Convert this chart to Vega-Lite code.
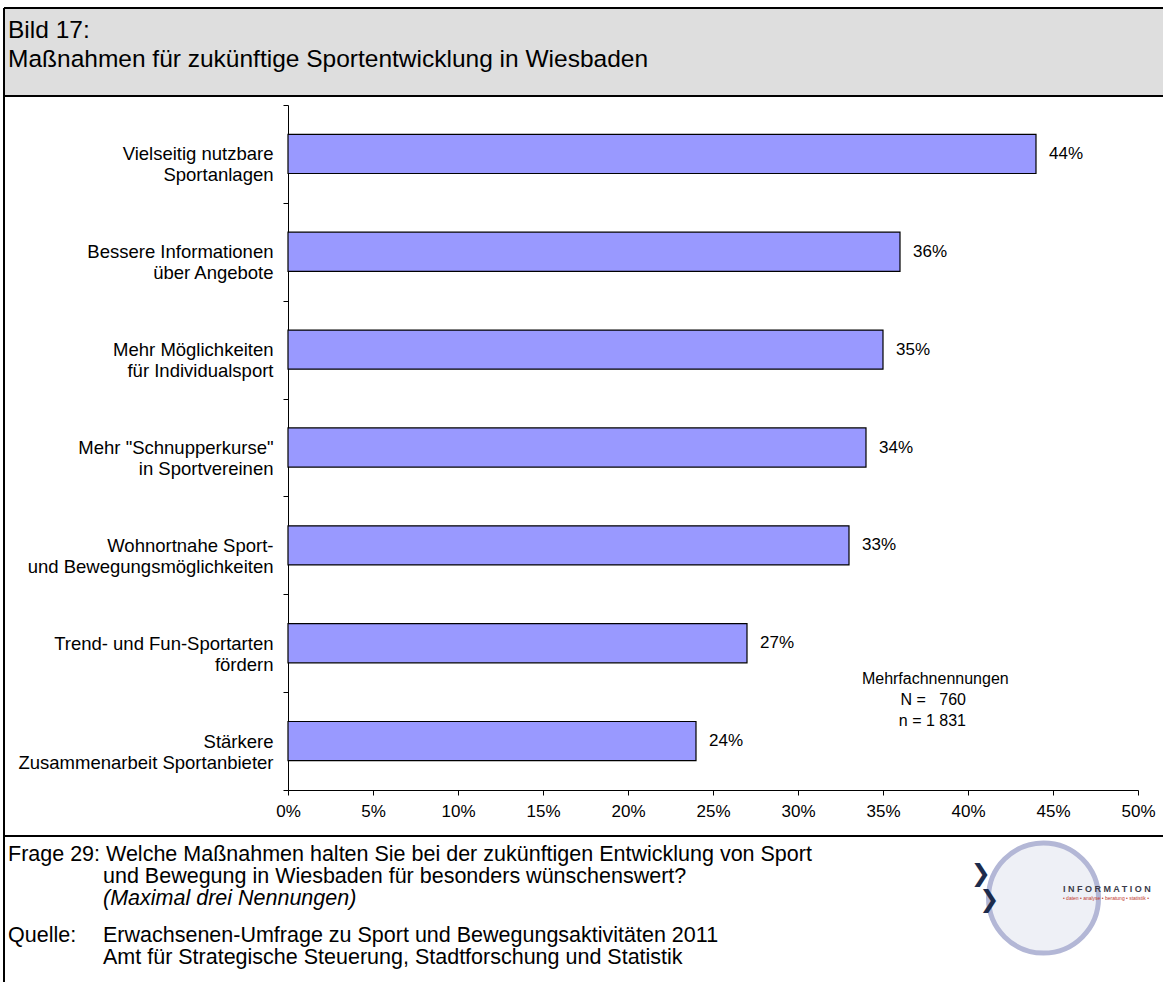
{
  "$schema": "https://vega.github.io/schema/vega-lite/v6.json",
  "background": "white",
  "padding": {"left": 3, "top": 7, "right": 0, "bottom": 0},
  "spacing": 0,
  "bounds": "flush",
  "config": {"font": "Liberation Sans", "view": {"stroke": null}, "concat": {"spacing": 0}},
  "vconcat": [
    {
      "width": 1159,
      "height": 88,
      "view": {"fill": "#dedede", "stroke": "black", "strokeWidth": 2, "strokeDash": [1159, 88, 1247, 0]},
      "data": {"values": [
        {"row": 1, "text": "Bild 17:"},
        {"row": 2, "text": "Maßnahmen für zukünftige Sportentwicklung in Wiesbaden"}
      ]},
      "mark": {"type": "text", "align": "left", "baseline": "alphabetic", "fontSize": 24.5, "color": "black"},
      "encoding": {
        "x": {"datum": 0, "type": "quantitative", "scale": {"domain": [0, 1], "range": [4, 1159], "zero": false, "nice": false}, "axis": null},
        "y": {"field": "row", "type": "quantitative", "scale": {"domain": [1, 2], "range": [30, 59], "zero": false, "nice": false}, "axis": null},
        "text": {"field": "text"}
      }
    },
    {
      "width": 1159,
      "height": 740,
      "view": {"stroke": "black", "strokeWidth": 2, "strokeDash": [1159, 740, 1899, 0]},
      "data": {"values": [
        {"cat": "Vielseitig nutzbare|Sportanlagen", "value": 44, "pct": "44%"},
        {"cat": "Bessere Informationen|über Angebote\u00a0", "value": 36, "pct": "36%"},
        {"cat": "Mehr Möglichkeiten|für Individualsport", "value": 35, "pct": "35%"},
        {"cat": "Mehr \"Schnupperkurse\"|in Sportvereinen", "value": 34, "pct": "34%"},
        {"cat": "Wohnortnahe Sport-|und Bewegungsmöglichkeiten", "value": 33, "pct": "33%"},
        {"cat": "Trend- und Fun-Sportarten|fördern\u00a0", "value": 27, "pct": "27%"},
        {"cat": "Stärkere\u00a0|Zusammenarbeit Sportanbieter", "value": 24, "pct": "24%"}
      ]},
      "encoding": {
        "y": {
          "field": "cat", "type": "nominal", "sort": null,
          "scale": {
            "domain": ["Vielseitig nutzbare|Sportanlagen", "Bessere Informationen|über Angebote\u00a0", "Mehr Möglichkeiten|für Individualsport", "Mehr \"Schnupperkurse\"|in Sportvereinen", "Wohnortnahe Sport-|und Bewegungsmöglichkeiten", "Trend- und Fun-Sportarten|fördern\u00a0", "Stärkere\u00a0|Zusammenarbeit Sportanbieter"],
            "range": [9, 694], "paddingInner": 0, "paddingOuter": 0
          },
          "axis": {
            "title": null, "offset": -284, "tickBand": "extent", "labelExpr": "split(datum.label, '|')",
            "labelLineHeight": 21, "labelFontSize": 18.5, "labelPadding": 10, "labelColor": "black",
            "tickColor": "black", "domainColor": "black", "tickSize": 5, "labelLimit": 400, "grid": false
          }
        },
        "x": {
          "field": "value", "type": "quantitative",
          "scale": {"domain": [0, 50], "range": [284, 1134], "nice": false, "zero": true},
          "axis": {
            "title": null, "orient": "bottom", "offset": -46, "values": [0, 5, 10, 15, 20, 25, 30, 35, 40, 45, 50],
            "labelExpr": "datum.value + '%'", "labelFontSize": 17, "labelPadding": 8, "labelColor": "black",
            "tickColor": "black", "domainColor": "black", "tickSize": 5, "grid": false, "labelFlush": false, "labelOverlap": false
          }
        }
      },
      "layer": [
        {"mark": {"type": "bar", "fill": "#9999ff", "stroke": "black", "strokeWidth": 1.2, "height": {"band": 0.4}}},
        {"mark": {"type": "text", "align": "left", "baseline": "middle", "dx": 13, "fontSize": 17, "color": "black"}, "encoding": {"text": {"field": "pct"}}},
        {
          "data": {"values": [{"note": "Mehrfachnennungen", "anchor": "Stärkere\u00a0|Zusammenarbeit Sportanbieter", "at": 33.76}]},
          "mark": {"type": "text", "align": "left", "baseline": "middle", "fontSize": 16, "color": "black", "dy": -62},
          "encoding": {
            "x": {"field": "at", "type": "quantitative"},
            "y": {"field": "anchor", "type": "nominal"},
            "text": {"field": "note"}
          }
        },
        {
          "data": {"values": [{"note": "N =\u00a0\u00a0\u00a0760", "anchor": "Stärkere\u00a0|Zusammenarbeit Sportanbieter", "at": 39.88}]},
          "mark": {"type": "text", "align": "right", "baseline": "middle", "fontSize": 16, "color": "black", "dy": -41},
          "encoding": {
            "x": {"field": "at", "type": "quantitative"},
            "y": {"field": "anchor", "type": "nominal"},
            "text": {"field": "note"}
          }
        },
        {
          "data": {"values": [{"note": "n = 1 831", "anchor": "Stärkere\u00a0|Zusammenarbeit Sportanbieter", "at": 39.88}]},
          "mark": {"type": "text", "align": "right", "baseline": "middle", "fontSize": 16, "color": "black", "dy": -20},
          "encoding": {
            "x": {"field": "at", "type": "quantitative"},
            "y": {"field": "anchor", "type": "nominal"},
            "text": {"field": "note"}
          }
        }
      ]
    },
    {
      "width": 1159,
      "height": 146,
      "view": {"stroke": "black", "strokeWidth": 2, "strokeDash": [1159, 1305, 146, 0]},
      "data": {"values": [
        {"line": 1, "indent": 0, "italic": false, "text": "Frage 29: Welche Maßnahmen halten Sie bei der zukünftigen Entwicklung von Sport"},
        {"line": 2, "indent": 1, "italic": false, "text": "und Bewegung in Wiesbaden für besonders wünschenswert?"},
        {"line": 3, "indent": 1, "italic": true, "text": "(Maximal drei Nennungen)"},
        {"line": 4.7, "indent": 0, "italic": false, "text": "Quelle:"},
        {"line": 4.7, "indent": 1, "italic": false, "text": "Erwachsenen-Umfrage zu Sport und Bewegungsaktivitäten 2011"},
        {"line": 5.7, "indent": 1, "italic": false, "text": "Amt für Strategische Steuerung, Stadtforschung und Statistik"}
      ]},
      "encoding": {
        "x": {"field": "indent", "type": "quantitative", "scale": {"domain": [0, 1], "range": [4, 99], "zero": false, "nice": false}, "axis": null},
        "y": {"field": "line", "type": "quantitative", "scale": {"domain": [1, 5.7], "range": [19, 122.4], "zero": false, "nice": false}, "axis": null}
      },
      "layer": [
        {
          "transform": [{"filter": "!datum.italic"}],
          "mark": {"type": "text", "align": "left", "baseline": "middle", "fontSize": 21.5, "color": "black"},
          "encoding": {"text": {"field": "text"}}
        },
        {
          "transform": [{"filter": "datum.italic"}],
          "mark": {"type": "text", "align": "left", "baseline": "middle", "fontSize": 21.5, "color": "black", "fontStyle": "italic"},
          "encoding": {"text": {"field": "text"}}
        },
        {
          "data": {"values": [{"part": "ring", "gx": 10.9, "gy": 2.955}]},
          "mark": {"type": "point", "shape": "circle", "size": 12100, "stroke": "#b3b7d6", "strokeWidth": 5, "fill": "#eef0f6", "fillOpacity": 1, "opacity": 1},
          "encoding": {"x": {"field": "gx", "type": "quantitative"}, "y": {"field": "gy", "type": "quantitative"}}
        },
        {
          "data": {"values": [{"part": "chevron", "gx": 10.24, "gy": 1.85, "glyph": "❯"}, {"part": "chevron", "gx": 10.33, "gy": 3.05, "glyph": "❯"}]},
          "mark": {"type": "text", "font": "DejaVu Sans", "fontSize": 24, "fontWeight": "bold", "color": "#1d2c4c", "baseline": "middle", "align": "center"},
          "encoding": {"x": {"field": "gx", "type": "quantitative"}, "y": {"field": "gy", "type": "quantitative"}, "text": {"field": "glyph"}}
        },
        {
          "data": {"values": [{"part": "word", "gx": 11.105, "gy": 2.56, "word": "I N F O R M A T I O N"}]},
          "mark": {"type": "text", "fontSize": 9, "fontWeight": "bold", "color": "#3b3b4a", "baseline": "middle", "align": "left"},
          "encoding": {"x": {"field": "gx", "type": "quantitative"}, "y": {"field": "gy", "type": "quantitative"}, "text": {"field": "word"}}
        },
        {
          "data": {"values": [{"part": "tagline", "gx": 11.105, "gy": 2.96, "word": "• daten • analyse • beratung • statistik •"}]},
          "mark": {"type": "text", "fontSize": 5, "color": "#c0392b", "baseline": "middle", "align": "left"},
          "encoding": {"x": {"field": "gx", "type": "quantitative"}, "y": {"field": "gy", "type": "quantitative"}, "text": {"field": "word"}}
        }
      ]
    }
  ]
}
